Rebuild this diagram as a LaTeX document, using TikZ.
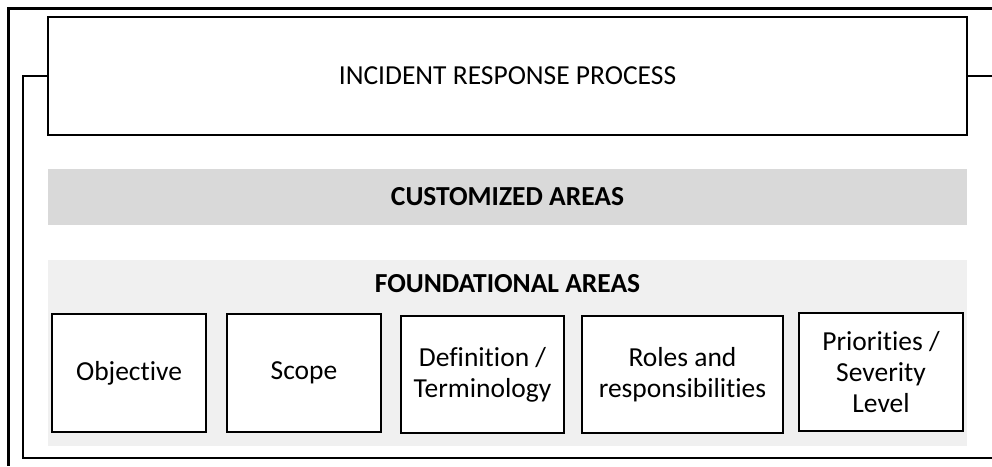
\documentclass[tikz,border=0pt]{standalone}
\usepackage{fontspec}
\setmainfont{Carlito}[Ligatures=NoCommon]
\usepackage{xcolor}
\usetikzlibrary{positioning}
\definecolor{custgray}{HTML}{D9D9D9}
\definecolor{foundgray}{HTML}{F0F0F0}

\begin{document}
\begin{tikzpicture}[x=1pt,y=-1pt,
  txt/.style={font=\fontsize{27.5}{31}\selectfont},
  area/.style={txt,draw=black,line width=2pt,fill=white,align=center,inner sep=0pt},
  band/.style={inner sep=0pt,minimum width=919pt},
  head/.style={txt,font=\fontsize{27.5}{31}\selectfont\bfseries}]
\useasboundingbox (0,0) rectangle (992,466);
%% frame
\draw[line width=3pt] (992,8) -- (8,8) -- (8,466);
%% process box
\node[area,minimum width=919pt,minimum height=118pt] (irp) at (507.5,76) {INCIDENT RESPONSE PROCESS};
\draw[line width=2pt] (irp.west) -- (23,76) -- (23,458) -- (992,458);
\draw[line width=2pt] (irp.east) -- (992,76);
%% customized areas
\node[band,head,fill=custgray,minimum height=56pt] (cust) at (507.5,197) {CUSTOMIZED AREAS};
%% foundational areas
\node[band,fill=foundgray,minimum height=186pt] (found) at (507.5,353) {};
\node[head] (foundlbl) at (507.5,284) {FOUNDATIONAL AREAS};
\node[area,minimum width=154pt,minimum height=118pt] (obj) at (129,373) {Objective};
\node[area,minimum width=154pt,minimum height=118pt] (scope) at (304,373) {Scope};
\node[area,minimum width=163pt,minimum height=117pt] (defn) at (482.5,374.5) {Definition /\\Terminology};
\node[area,minimum width=201pt,minimum height=117pt] (roles) at (682.5,374.5) {Roles and\\responsibilities};
\node[area,minimum width=164pt,minimum height=118pt] (prio) at (881,372) {Priorities /\\Severity\\Level};

\end{tikzpicture}
\end{document}
